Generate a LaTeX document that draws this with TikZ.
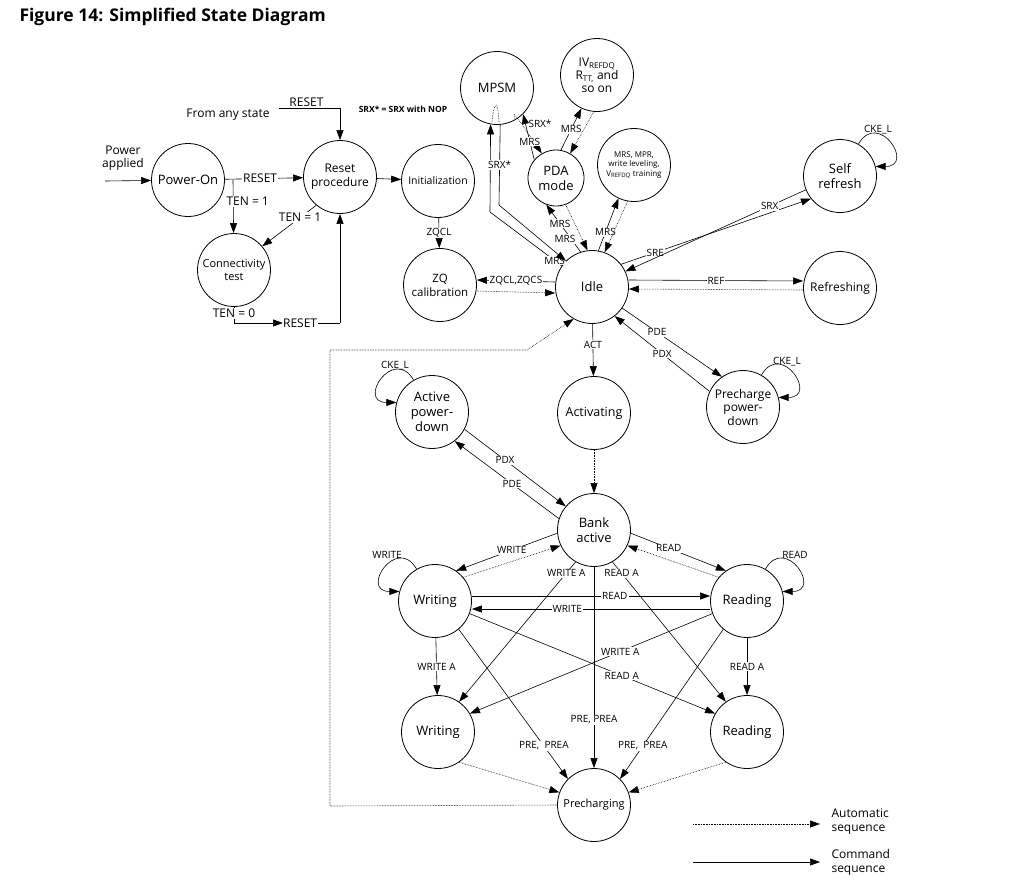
\documentclass[tikz,border=0pt]{standalone}
\usepackage{fontspec}
\setmainfont{Open Sans}
\usetikzlibrary{arrows.meta}
\begin{document}
\begin{tikzpicture}[x=1pt,y=-1pt,
  st/.style={circle,draw,line width=0.8pt,minimum size=73pt,inner sep=0pt,align=center,font=\fontsize{13}{15}\selectfont},
  arr/.style={line width=0.6pt,-{Triangle[length=10pt,width=7pt]}},
  dar/.style={arr,densely dotted},
  ln/.style={line width=0.6pt},
  lb/.style={fill=white,inner sep=1pt,font=\fontsize{10}{11}\selectfont},
  lbn/.style={inner sep=1pt,font=\fontsize{10}{11}\selectfont}]
\useasboundingbox (0,0) rectangle (1010,887);
\node[anchor=west,font=\bfseries\fontsize{17.5}{20}\selectfont] (title) at (16,17) {Figure 14: Simplified State Diagram};
% states
\node[st] (pon) at (188,180) {Power-On};
\node[st,font=\fontsize{12}{14}\selectfont] (rst) at (340,177) {Reset\\procedure};
\node[st,font=\fontsize{10.5}{12}\selectfont] (ini) at (438,181) {Initialization};
\node[st,font=\fontsize{11}{13}\selectfont] (con) at (234,270) {Connectivity\\test};
\node[st,font=\fontsize{11.5}{14}\selectfont] (zq) at (440,285) {ZQ\\calibration};
\node[st] (mpsm) at (497,88) {MPSM};
\node[st,font=\fontsize{12}{13}\selectfont] (iv) at (597,75) {IV\textsubscript{REFDQ}\\R\textsubscript{TT,} and\\so on};
\node[st,minimum size=56pt] (pda) at (556,178) {PDA\\mode};
\node[st,font=\fontsize{8}{9.5}\selectfont] (mrsb) at (634,165) {MRS, MPR,\\write leveling,\\V\textsubscript{REFDQ} training};
\node[st] (self) at (840,176) {Self\\refresh};
\node[st] (idle) at (592,287) {Idle};
\node[st,font=\fontsize{12}{13}\selectfont] (rf) at (840,288) {Refreshing};
\node[st,font=\fontsize{12.5}{14}\selectfont] (act) at (594,413) {Activating};
\node[st] (apd) at (432,412) {Active\\power-\\down};
\node[st,font=\fontsize{12}{13.5}\selectfont] (ppd) at (743,407) {Precharge\\power-\\down};
\node[st] (bank) at (594,530) {Bank\\active};
\node[st] (wa) at (435,601) {Writing};
\node[st] (ra) at (747,601) {Reading};
\node[st] (wb) at (438,732) {Writing};
\node[st] (rb) at (747,732) {Reading};
\node[st,font=\fontsize{11}{12}\selectfont] (pre) at (594,805) {Precharging};
% top-left texts
\node[align=center,font=\fontsize{12}{13}\selectfont] (pa) at (123,158) {Power\\applied};
\coordinate (pa0) at (105,181);
\draw[arr] (pa0) -- (pon);
\node[font=\fontsize{12}{13}\selectfont] (fas) at (228,115) {From any state};
\coordinate (fa0) at (279,108);
\coordinate (fa1) at (340,108);
\draw[arr] (fa0) -- node[lbn,above,pos=0.45]{\fontsize{12}{13}\selectfont RESET} (fa1) -- (rst);
\node[font=\bfseries\fontsize{8.5}{9}\selectfont] (srxn) at (403,109) {SRX* = SRX with NOP};
\draw[arr] (pon) -- node[lb,pos=0.45]{\fontsize{12}{13}\selectfont RESET} (rst);
\coordinate (t1) at (233,180);
\draw[arr] (t1) -- node[lb,pos=0.4,right=-8pt]{\fontsize{12}{13}\selectfont TEN = 1} (con);
\draw[arr] (rst.230) -- node[lb,pos=0.3]{\fontsize{12}{13}\selectfont TEN = 1} (con.40);
\coordinate (c1) at (234,323); \coordinate (c2) at (340,323);
\draw[arr] (con.south) -- node[lb,pos=0.4]{\fontsize{12}{13}\selectfont TEN = 0} (c1) -- (283,323);
\draw[ln] (283,323) -- node[lb,pos=0.3]{\fontsize{12}{13}\selectfont RESET} (c2);
\draw[arr] (c2) -- (rst);
\draw[arr] (rst) -- (ini);
\draw[arr] (ini) -- node[lb]{ZQCL} (zq);
% Idle to neighbours
\draw[arr] ([yshift=5pt]idle.west) -- node[lb]{ZQCL,ZQCS} ([yshift=5pt]zq.east);
\draw[dar] ([yshift=-6pt]zq.east) -- ([yshift=-6pt]idle.west);
\draw[arr] ([yshift=7pt]idle.east) -- node[lb]{REF} ([yshift=7pt]rf.west);
\draw[dar] ([yshift=-2pt]rf.west) -- ([yshift=-2pt]idle.east);
\draw[arr] (idle.38) -- node[lb,pos=0.18]{SRE} (self.218);
\draw[arr] (self.202) -- node[lb,pos=0.2]{SRX} (idle.25);
\draw[arr] (idle.-35) -- node[lb,pos=0.35]{PDE} (ppd.125);
\draw[arr] (ppd.155) -- node[lb,pos=0.5]{PDX} (idle.-52);
\draw[arr] (idle) -- node[lb,pos=0.4]{ACT} (act);
\draw[dar] (act) -- (bank);
\draw[arr] (apd.-28) -- node[lb,pos=0.4]{PDX} (bank.140);
\draw[arr] (bank.162) -- node[lb,pos=0.45]{PDE} (apd.-52);
% loops (y axis flipped: negative angles point up)
\draw[arr] (self.60) .. controls +(-60:40) and +(0:40) .. (self.15);
\node[lbn] (ck1) at (878,130) {CKE\_L};
\draw[arr] (apd.120) .. controls +(-120:40) and +(180:40) .. (apd.165);
\node[lbn] (ck2) at (395,366) {CKE\_L};
\draw[arr] (ppd.60) .. controls +(-60:40) and +(0:40) .. (ppd.15);
\node[lbn] (ck3) at (787,362) {CKE\_L};
\draw[arr] (wa.120) .. controls +(-120:40) and +(180:40) .. (wa.165);
\node[lbn] (w1) at (387,555) {WRITE};
\draw[arr] (ra.60) .. controls +(-60:40) and +(0:40) .. (ra.15);
\node[lbn] (r1) at (795,555) {READ};
% MPSM
\coordinate (m1) at (490,212); \coordinate (m2) at (499,205);
\draw[arr] (idle.145) -- node[lb,pos=0.1]{MRS} (m1) -- (mpsm.260);
\draw[ln] (mpsm.275) -- node[lb,pos=0.5]{SRX*} (m2);
\draw[arr] (m2) -- (idle.135);
\draw[ln,densely dotted] (492,122) .. controls (494,100) and (498,100) .. (499,122);
\draw[dar] (mpsm.-60) .. controls (512,110) .. (pda.120);
\node[lbn,fill=white] (sx) at (540,124) {SRX*};
\draw[arr] (pda.140) -- node[lb,pos=0.4]{MRS} (mpsm.-45);
\draw[arr] (pda.80) -- node[lb,pos=0.5]{MRS} (iv.-115);
\draw[dar] (iv.-95) -- (pda.60);
\draw[arr] (idle.108) -- node[lb,pos=0.6]{MRS} (pda.-110);
\draw[dar] (pda.-70) -- (idle.97);
\node[lb] (ml) at (565,239) {MRS};
\draw[arr] (idle.80) -- node[lb,pos=0.35]{MRS} (mrsb.-115);
\draw[dar] (mrsb.-100) -- (idle.70);
% bank region
\draw[arr] (bank.185) -- node[lb,pos=0.45]{WRITE} (wa.55);
\draw[dar] (wa.40) -- (bank.205);
\draw[arr] (bank.-5) -- node[lb,pos=0.4]{READ} (ra.125);
\draw[dar] (ra.140) -- (bank.-25);
\draw[arr] ([yshift=5pt]wa.east) -- node[lb,pos=0.6]{READ} ([yshift=5pt]ra.west);
\draw[arr] ([yshift=-8pt]ra.west) -- node[lb,pos=0.6]{WRITE} ([yshift=-8pt]wa.east);
\draw[arr] (bank.-120) -- node[lb,pos=0.08]{WRITE A} (wb.55);
\draw[arr] (bank.-60) -- node[lb,pos=0.08]{READ A} (rb.125);
\draw[arr] (bank) -- node[lb,pos=0.76]{PRE, PREA} (pre);
\draw[arr] (wa) -- node[lb]{WRITE A} (wb);
\draw[arr] (ra) -- node[lb]{READ A} (rb);
\draw[arr] (wa.-20) -- node[lb,pos=0.62]{READ A} (rb.150);
\draw[arr] (ra.-160) -- node[lb,pos=0.38]{WRITE A} (wb.30);
\draw[arr] (wa.-50) -- node[lb,pos=0.78]{PRE,~~PREA} (pre.135);
\draw[arr] (ra.-130) -- node[lb,pos=0.78]{PRE,~~PREA} (pre.45);
\draw[dar] (wb.-55) -- (pre.160);
\draw[dar] (rb.-125) -- (pre.20);
\coordinate (b1) at (330,806); \coordinate (b2) at (330,350); \coordinate (b3) at (527,350);
\draw[dar] (pre.west) -- (b1) -- (b2) -- (b3) -- (idle.-120);
% legend
\coordinate (l1) at (693,824); \coordinate (l2) at (820,824);
\coordinate (l3) at (693,862); \coordinate (l4) at (820,862);
\draw[dar] (l1) -- (l2);
\draw[arr] (l3) -- (l4);
\node[anchor=west,align=left,font=\fontsize{12}{14}\selectfont] (lt1) at (828,822) {Automatic\\sequence};
\node[anchor=west,align=left,font=\fontsize{12}{14}\selectfont] (lt2) at (828,862) {Command\\sequence};
\end{tikzpicture}
\end{document}
